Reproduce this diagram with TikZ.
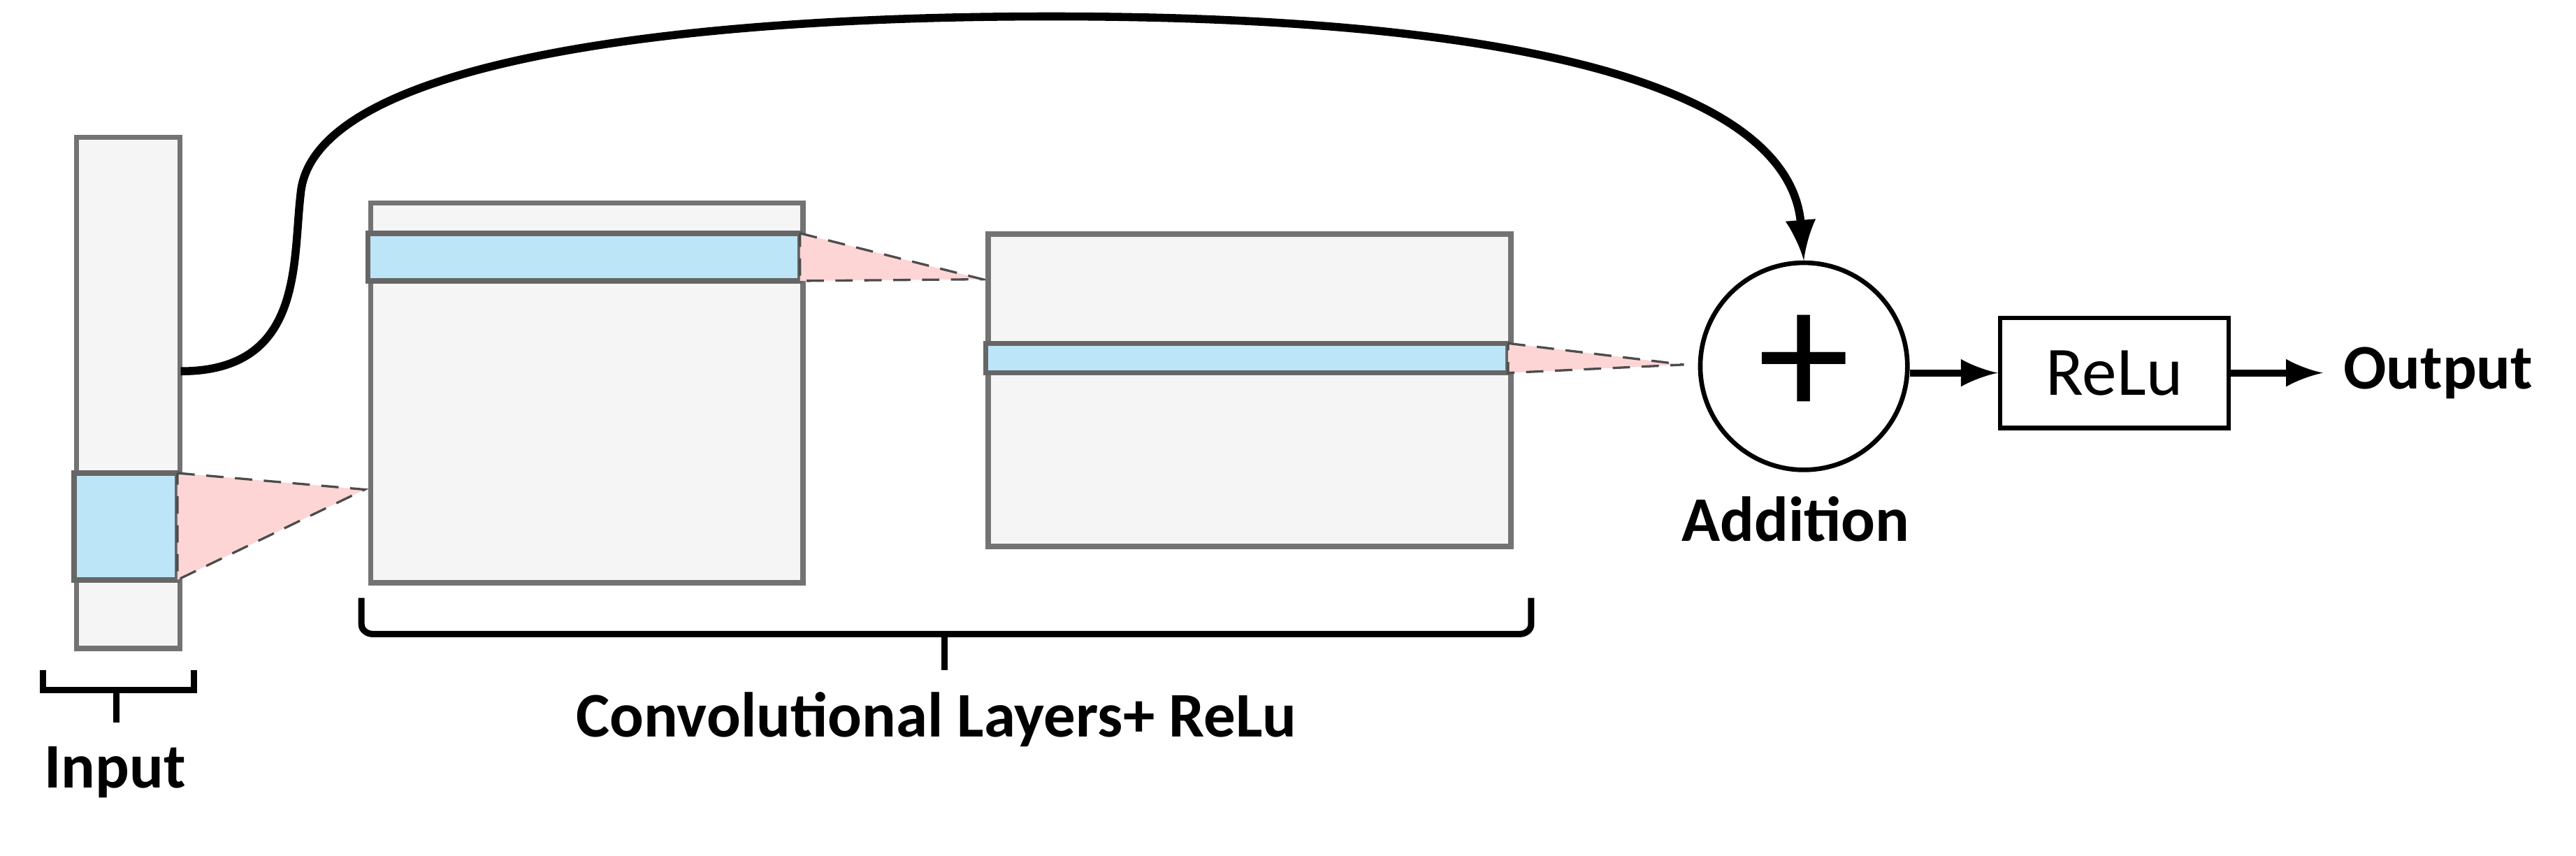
\documentclass[tikz,border=0pt]{standalone}
\usepackage{fontspec}
\setmainfont{Carlito}
\definecolor{bandc}{HTML}{BDE5F8}
\definecolor{conec}{HTML}{FDD5D5}
\begin{document}
\begin{tikzpicture}[x=0.01cm,y=-0.01cm,
  layer/.style={draw=black!55,line width=0.9pt,fill=black!4,inner sep=0,anchor=north west},
  band/.style={draw=black!60,line width=0.9pt,fill=bandc},
  cone/.style={fill=conec,draw=black!70,line width=0.4pt,densely dashed},
  lbl/.style={font=\bfseries\fontsize{11}{13}\selectfont},
  arr/.style={-latex,line width=1.2pt}]
\useasboundingbox (0,0) rectangle (1568,521);
% input
\node[layer,minimum width=0.63cm,minimum height=3.11cm] (in) at (45,82) {};
\filldraw[band] (45,288) rectangle (108,353);
\filldraw[cone] (108,288) -- (222,298) -- (108,353) -- cycle;
% box1
\node[layer,minimum width=2.63cm,minimum height=2.31cm] (b1) at (224,122) {};
\filldraw[band] (224,142) rectangle (487,171);
\filldraw[cone] (487,142) -- (598,170) -- (487,171) -- cycle;
% box2
\node[layer,minimum width=3.18cm,minimum height=1.90cm] (b2) at (600,141) {};
\filldraw[band] (600,209) rectangle (918,227);
\filldraw[cone] (918,209) -- (1025,222) -- (918,227) -- cycle;
% addition
\node[circle,draw,line width=0.8pt,minimum size=1.26cm,inner sep=0] (add) at (1098,223) {\fontsize{32}{32}\selectfont +};
\node[lbl] (addl) at (1093,316) {Addition};
\node[draw,line width=0.8pt,minimum width=1.39cm,minimum height=0.67cm,inner sep=0,font=\fontsize{12}{14}\selectfont] (relu) at (1287,227) {ReLu};
\node[lbl,anchor=west] (out) at (1414,227) {Output};
\draw[arr] (add.east |- relu.west) -- (relu.west);
\draw[arr] (relu.east) -- (out.west);
% skip
\coordinate (s0) at (110,226);
\draw[line width=1.4pt,-latex] (s0) .. controls (185,226) and (178,160) .. (183,118)
  .. controls (190,40) and (400,10) .. (640,10)
  .. controls (950,10) and (1090,60) .. (add.north);
% braces
\coordinate (bi) at (71,440);
\draw[line width=1.1pt] (26,408) -- (26,420) -- (118,420) -- (118,408);
\draw[line width=1.1pt] (71,420) -- (bi);
\node[lbl] (inl) at (70,470) {Input};
\coordinate (bc) at (575,408);
\draw[line width=1.1pt] (220,364) -- (220,380) to[out=-90,in=180] (227,386) -- (925,386) to[out=0,in=-90] (932,380) -- (932,364);
\draw[line width=1.1pt] (575,386) -- (bc);
\node[lbl] (cl) at (570,438) {Convolutional Layers+ ReLu};
\end{tikzpicture}
\end{document}
